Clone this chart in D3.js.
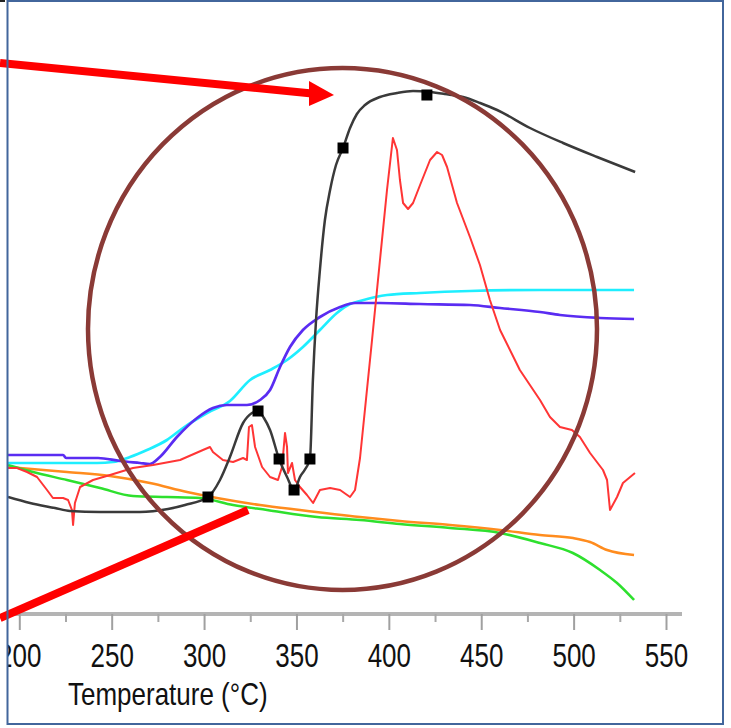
<!DOCTYPE html>
<html><head><meta charset="utf-8">
<script src="https://cdn.jsdelivr.net/npm/d3@7"></script>
<style>html,body{margin:0;padding:0;background:#fff;}svg{display:block;}</style>
</head><body>
<svg id="chart" width="731" height="728"></svg>
<script>
// ---- data (temperature in °C, signal in arbitrary units) ----
const blackT = [193.9,205.8,219.3,227.4,243.7,265.3,280.5,289.7,302.1,308.6,314.0,321.1,325.9,329.2,332.4,335.7,340.6,344.9,348.7,351.9,357.3,358.9,360.6,362.7,365.4,368.2,371.4,375.2,379.0,382.7,387.1,395.2,404.4,413.1,422.3,430.4,440.2,449.4,458.6,476.4,494.3,512.7,533.3];
const blackV = [117,111,106,103,102,102,105,109,117,134,157,191,201,203,196,184,155,137,124,137,155,234,294,344,394,424,449,466,486,500,509,517,521,523,522,520,517,511,504,486,471,457,442];
const markerT = [302.1,329.2,340.6,348.7,357.3,375.2,420.6];
const markerV = [117,203,155,124,155,466,519];

const purpleT = [193.9,223.7,225.3,242.6,254.5,265.3,270.7,276.1,285.3,296.2,304.8,312.4,323.2,330.3,335.7,341.1,346.5,353.5,362.7,373.6,381.7,395.2,416.9,443.9,460.2,481.8,492.6,514.3,532.7];
const purpleV = [159,159,156,156,153,151,150,157,177,196,206,209,209,214,224,247,267,284,297,307,311,311,310,309,306,302,299,296,295];

const cyanT = [193.9,242.1,250.7,259.9,269.1,279.9,288.6,301.6,314.0,324.9,335.7,344.9,353.5,362.7,371.9,379.0,384.4,399.0,416.9,443.9,481.8,532.7];
const cyanV = [151,151,152,157,164,174,186,201,213,234,244,254,267,284,301,310,313,319,321,323,324,324];

const orangeT = [193.9,225.8,249.1,270.7,290.8,307.0,330.3,351.9,384.4,406.0,433.1,460.2,481.8,499.7,508.9,518.1,532.7];
const orangeV = [147,142,138,131,122,116,109,104,97,93,89,84,79,76,72,64,59];

const greenT = [193.9,207.4,225.8,243.7,261.5,279.9,297.8,315.7,334.1,361.1,384.4,406.0,433.1,460.2,481.8,499.6,514.3,523.5,532.7];
const greenV = [149,142,134,126,118,117,116,109,104,97,94,90,86,81,71,61,44,31,14];

const redT = [193.9,198.8,204.2,209.6,215.0,218.2,223.7,226.4,228.5,229.1,230.1,232.9,239.9,249.1,261.5,272.4,287.0,299.4,303.2,304.8,310.2,315.7,321.1,323.2,324.3,325.9,327.6,331.4,335.7,340.0,342.2,343.8,344.9,345.4,347.6,349.2,351.9,355.7,359.0,362.7,368.2,373.6,379.0,381.7,384.4,387.6,390.9,395.2,399.0,402.2,404.4,406.0,407.7,410.4,413.1,416.9,422.3,426.1,428.8,431.5,436.9,443.9,449.3,454.7,460.2,470.9,481.8,487.2,492.6,499.1,503.4,508.9,515.9,518.1,519.7,523.5,526.7,533.2];
const redV = [146,146,142,137,124,116,116,114,104,89,111,127,134,139,146,149,154,164,167,162,154,152,156,154,187,189,167,147,137,134,147,181,167,141,151,134,127,119,111,124,126,124,117,124,156,214,274,354,424,476,464,434,411,405,411,429,454,462,459,447,411,377,349,314,284,244,214,197,187,184,177,161,144,134,104,117,131,141];

const majorTicks = [200,250,300,350,400,450,500,550];
const minorTicks = [225,275,325,375,425,475,525];
const xTitle = "Temperature (°C)";

// ---- scales ----
const x = d3.scaleLinear().domain([200,550]).range([19.3,666]);
const y = d3.scaleLinear().domain([0,600]).range([614,14]);

const svg = d3.select("#chart");
const zip = (T,V) => T.map((t,i)=>[t,V[i]]);
const smooth = d3.line().x(d=>x(d[0])).y(d=>y(d[1])).curve(d3.curveMonotoneX);
const straight = d3.line().x(d=>x(d[0])).y(d=>y(d[1]));

svg.append("rect").attr("x",0).attr("y",0).attr("width",5).attr("height",2).attr("fill","#222");

const defs = svg.append("defs");
defs.append("clipPath").attr("id","frameClip").append("rect")
  .attr("x",8).attr("y",1).attr("width",715).attr("height",723);

const plot = svg.append("g").attr("clip-path","url(#frameClip)");

// axis
plot.append("line").attr("x1",8).attr("x2",682).attr("y1",614).attr("y2",614)
  .attr("stroke","#b4b4b4").attr("stroke-width",4);

const majAxis = d3.axisBottom(x).tickValues(majorTicks).tickSize(16).tickFormat(d3.format("d"));
const gMaj = plot.append("g").attr("transform","translate(0,614)").call(majAxis);
gMaj.select(".domain").remove();
gMaj.selectAll(".tick line").attr("stroke","#a0a0a0").attr("stroke-width",2);
gMaj.selectAll(".tick text")
  .attr("font-family","'Liberation Sans', Arial, sans-serif")
  .attr("font-size",26).attr("fill","#111")
  .attr("dy",0).attr("y",53/1.29)
  .attr("transform","scale(1,1.29)");

const minAxis = d3.axisBottom(x).tickValues(minorTicks).tickSize(8).tickFormat("");
const gMin = plot.append("g").attr("transform","translate(0,614)").call(minAxis);
gMin.select(".domain").remove();
gMin.selectAll(".tick line").attr("stroke","#a8a8a8").attr("stroke-width",2);

svg.append("text").text(xTitle)
  .attr("font-family","'Liberation Sans', Arial, sans-serif")
  .attr("font-size",26).attr("fill","#111")
  .attr("transform","translate(68,705) scale(1,1.18)");

// series
const series = [
  {T:orangeT, V:orangeV, c:"#ff8c1e", w:2.5, gen:smooth},
  {T:greenT, V:greenV, c:"#2ee02e", w:2.5, gen:smooth},
  {T:cyanT, V:cyanV, c:"#1eeeff", w:2.7, gen:smooth},
  {T:purpleT, V:purpleV, c:"#5a2cf2", w:2.7, gen:smooth},
  {T:redT, V:redV, c:"#ff3535", w:2, gen:straight},
  {T:blackT, V:blackV, c:"#3a3a3a", w:2.5, gen:smooth}
];
plot.selectAll("path.series").data(series).enter().append("path")
  .attr("class","series")
  .attr("d",s=>s.gen(zip(s.T,s.V)))
  .attr("fill","none").attr("stroke",s=>s.c).attr("stroke-width",s=>s.w)
  .attr("stroke-linejoin","round");

plot.selectAll("rect.marker").data(zip(markerT,markerV)).enter().append("rect")
  .attr("class","marker")
  .attr("x",d=>x(d[0])-5.5).attr("y",d=>y(d[1])-5.5)
  .attr("width",11).attr("height",11).attr("fill","#000");

// annotation ellipse
svg.append("ellipse").attr("cx",342.5).attr("cy",329).attr("rx",254.5).attr("ry",261)
  .attr("fill","none").attr("stroke","#8a3a36").attr("stroke-width",4.5);

// arrows
svg.append("line").attr("x1",0).attr("y1",63).attr("x2",312).attr("y2",93.5)
  .attr("stroke","#ff0000").attr("stroke-width",8);
svg.append("path").attr("d","M309,81 L334,95 L309,106 Z").attr("fill","#ff0000");
svg.append("line").attr("x1",0).attr("y1",618).attr("x2",248).attr("y2",510)
  .attr("stroke","#ff0000").attr("stroke-width",8);

// frame
svg.append("rect").attr("x",7.5).attr("y",1).attr("width",715.5).attr("height",723)
  .attr("fill","none").attr("stroke","#42669c").attr("stroke-width",2);
</script>
</body></html>
